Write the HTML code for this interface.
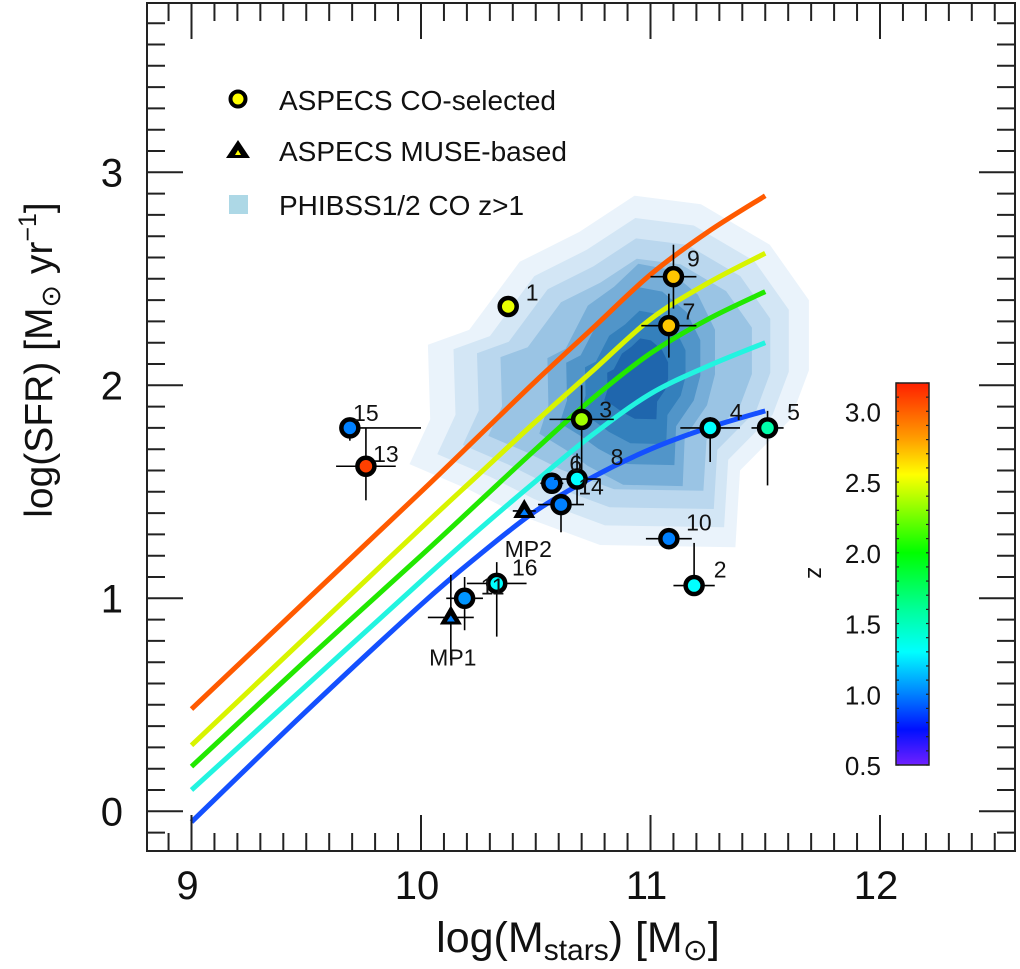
<!DOCTYPE html>
<html><head><meta charset="utf-8">
<style>
html,body{margin:0;padding:0;background:#fff;}
svg text{font-family:"Liberation Sans",Arial,sans-serif;fill:#111;}
</style></head>
<body>
<svg id="chart" width="1020" height="964" viewBox="0 0 1020 964" xmlns="http://www.w3.org/2000/svg">
<defs>
<linearGradient id="cbgrad" x1="0" y1="1" x2="0" y2="0">
<stop offset="0" stop-color="#7020ff"/>
<stop offset="0.093" stop-color="#0010ff"/>
<stop offset="0.185" stop-color="#0080ff"/>
<stop offset="0.296" stop-color="#00ffff"/>
<stop offset="0.407" stop-color="#00ff9a"/>
<stop offset="0.556" stop-color="#00ff00"/>
<stop offset="0.76" stop-color="#ffff00"/>
<stop offset="0.852" stop-color="#ffa000"/>
<stop offset="1" stop-color="#ff2000"/>
</linearGradient>
<clipPath id="plotclip"><rect x="147" y="3" width="868" height="848"/></clipPath>
</defs>
<g id="contours" clip-path="url(#plotclip)"></g>
<g id="curves" clip-path="url(#plotclip)"></g>
<g id="points"></g>
<g id="axes"></g>
<g id="legend">
  <circle cx="238" cy="99" r="7.5" fill="#ffff00" stroke="#000" stroke-width="4"/>
  <text x="279" y="110" font-size="28">ASPECS CO-selected</text>
  <polygon points="238,140 250,158 226,158" fill="#000"/>
  <polygon points="238,150 241,155 235,155" fill="#ffff00"/>
  <text x="279" y="161" font-size="28">ASPECS MUSE-based</text>
  <rect x="229" y="195" width="19" height="19" fill="#add8e6"/>
  <text x="279" y="215" font-size="28">PHIBSS1/2 CO z&gt;1</text>
</g>
<g id="colorbar">
  <rect x="896" y="383" width="33" height="382" fill="url(#cbgrad)" stroke="#222" stroke-width="1.5"/>
  <text x="0" y="0" font-size="24" text-anchor="middle" transform="translate(808,573) rotate(90)">z</text>
</g>
<text x="578" y="952" font-size="43" text-anchor="middle">log(M<tspan font-size="30" dy="8">stars</tspan><tspan dy="-8">) [M</tspan><tspan font-size="30" dy="8">⊙</tspan><tspan dy="-8">]</tspan></text>
<text font-size="39" text-anchor="middle" transform="translate(52,360) rotate(-90)">log(SFR) [M<tspan font-size="27" dy="8">⊙</tspan><tspan dy="-8"> yr</tspan><tspan font-size="25" dy="-16">−1</tspan><tspan dy="16">]</tspan></text>
</svg>
<script>
// ---------- data ----------
const curveMass = [9.0, 9.5, 10.0, 10.25, 10.5, 10.75, 11.0, 11.25, 11.5];
const curveRed    = [0.48, 0.99, 1.50, 1.76, 2.02, 2.27, 2.52, 2.72, 2.89];
const curveYellow = [0.31, 0.82, 1.33, 1.58, 1.83, 2.07, 2.31, 2.48, 2.62];
const curveGreen  = [0.21, 0.71, 1.20, 1.45, 1.70, 1.94, 2.15, 2.31, 2.44];
const curveCyan   = [0.10, 0.59, 1.08, 1.32, 1.55, 1.77, 1.96, 2.09, 2.20];
const curveBlue   = [-0.05, 0.47, 0.97, 1.20, 1.41, 1.57, 1.70, 1.80, 1.88];

const ptLabel = ["1","9","7","3","15","13","6","8","14","MP2","10","2","4","5","16","12","MP1"];
const ptMass  = [10.38, 11.10, 11.08, 10.70, 9.69, 9.76, 10.57, 10.68, 10.61, 10.45, 11.08, 11.19, 11.26, 11.51, 10.33, 10.19, 10.13];
const ptSFR   = [2.37, 2.51, 2.28, 1.84, 1.80, 1.62, 1.54, 1.56, 1.44, 1.41, 1.28, 1.06, 1.80, 1.80, 1.07, 1.00, 0.91];
const ptZ     = [2.5, 2.7, 2.7, 2.35, 1.0, 3.1, 1.0, 1.3, 1.0, 1.0, 1.0, 1.3, 1.3, 1.55, 1.3, 1.05, 1.0];
const ptXerrLo = [0, 0.1, 0.12, 0.14, 0, 0.13, 0.05, 0.1, 0.1, 0.05, 0.1, 0.09, 0.13, 0.07, 0.13, 0.08, 0.1];
const ptXerrHi = [0, 0.1, 0.12, 0.14, 0.31, 0.13, 0.05, 0.1, 0.1, 0.05, 0.1, 0.09, 0.13, 0.07, 0.13, 0.08, 0.1];
const ptYerrLo = [0, 0.15, 0.15, 0.28, 0.06, 0.16, 0.05, 0.12, 0.13, 0.03, 0.05, 0.02, 0.16, 0.27, 0.25, 0.15, 0.2];
const ptYerrHi = [0, 0.15, 0.15, 0.16, 0, 0.18, 0.05, 0.12, 0.03, 0.03, 0.05, 0.2, 0.05, 0.08, 0.1, 0.1, 0.2];
const ptIsTriangle = [0,0,0,0,0,0,0,0,0,1,0,0,0,0,0,0,1];

const contourMass = [10.03,10.21,10.43,10.69,10.93,11.22,11.52,11.69,11.69,11.61,11.39,11.37,10.78,10.43,10.21,9.95,10.04];
const contourSFR  = [2.19,2.26,2.58,2.72,2.89,2.85,2.66,2.40,2.07,1.84,1.60,1.24,1.25,1.39,1.51,1.63,1.84];
const contourLevels = [1, 0.88, 0.77, 0.66, 0.55, 0.44, 0.33, 0.2];
const contourCenter = [10.96, 2.02];

const xTicks = [9, 10, 11, 12];
const yTicks = [0, 1, 2, 3];
const cbTicks = ["0.5","1.0","1.5","2.0","2.5","3.0"];

// ---------- scales ----------
const X = v => 191.5 + (v - 9) * 229.5;
const Y = v => 811.3 - v * 213;
const CBY = z => 765 - (z - 0.5) / 2.7 * 382;
const NS = "http://www.w3.org/2000/svg";
function mk(tag, attrs, parent){const e=document.createElementNS(NS,tag);for(const k in attrs)e.setAttribute(k,attrs[k]);parent.appendChild(e);return e;}

const cmapZ = [0.5,0.75,1.0,1.3,1.6,2.0,2.55,2.8,3.2];
const cmapC = [[112,32,255],[0,16,255],[0,128,255],[0,255,255],[0,255,154],[0,255,0],[255,255,0],[255,160,0],[255,32,0]];
function cmap(z){
  if(z<=cmapZ[0])return 'rgb('+cmapC[0]+')';
  for(let i=0;i<cmapZ.length-1;i++){
    if(z<=cmapZ[i+1]){const t=(z-cmapZ[i])/(cmapZ[i+1]-cmapZ[i]);
      const c=cmapC[i].map((a,j)=>Math.round(a+(cmapC[i+1][j]-a)*t));return 'rgb('+c+')';}
  }
  return 'rgb('+cmapC[cmapC.length-1]+')';
}

// ---------- contours ----------
const contourColors = ['#eaf3fb','#d3e6f5','#bad7ee','#9ac4e4','#77aed8','#5195c9','#3480bc','#1f66ad','#0e529f'];
const cg = document.getElementById('contours');
contourLevels.forEach((s, li) => {
  const pts = contourMass.map((m,i)=>{
    const mx = contourCenter[0] + (m - contourCenter[0]) * s * (li>3?0.8:1);
    const my = contourCenter[1] + (contourSFR[i] - contourCenter[1]) * s * (li>3?1.15:1);
    return X(mx).toFixed(1)+','+Y(my).toFixed(1);
  }).join(' ');
  const p = mk('polygon',{points:pts, fill:contourColors[li]}, cg);
  
  
});

// ---------- curves ----------
const curveSets = [curveRed, curveYellow, curveGreen, curveCyan, curveBlue];
const curveNames = ['red','yellow','green','cyan','blue'];
const curveColors = ['#ff5a00','#d8f400','#22e800','#22f4e0','#1450ff'];
const cvg = document.getElementById('curves');
function smoothPath(xs, ys){
  const P = xs.map((x,i)=>[X(x),Y(ys[i])]);
  let d='M'+P[0][0]+','+P[0][1];
  for(let i=0;i<P.length-1;i++){
    const p0=P[i-1]||P[i], p1=P[i], p2=P[i+1], p3=P[i+2]||P[i+1];
    const c1=[p1[0]+(p2[0]-p0[0])/6, p1[1]+(p2[1]-p0[1])/6];
    const c2=[p2[0]-(p3[0]-p1[0])/6, p2[1]-(p3[1]-p1[1])/6];
    d+=' C'+c1.join(',')+' '+c2.join(',')+' '+p2.join(',');
  }
  return d;
}
curveSets.forEach((ys, ci) => {
  const p = mk('path',{d:smoothPath(curveMass, ys), fill:'none', stroke:curveColors[ci], 'stroke-width':5}, cvg);
  
  
});

// ---------- points ----------
const pg = document.getElementById('points');
ptMass.forEach((m, i) => {
  const g = mk('g',{}, pg);
  
  
  const cx=X(m), cy=Y(ptSFR[i]);
  if(ptXerrLo[i]||ptXerrHi[i]) mk('line',{x1:X(m-ptXerrLo[i]),x2:X(m+ptXerrHi[i]),y1:cy,y2:cy,stroke:'#000','stroke-width':1.6}, g);
  if(ptYerrLo[i]||ptYerrHi[i]) mk('line',{x1:cx,x2:cx,y1:Y(ptSFR[i]-ptYerrLo[i]),y2:Y(ptSFR[i]+ptYerrHi[i]),stroke:'#000','stroke-width':1.6}, g);
  if(ptIsTriangle[i]){
    mk('polygon',{points:(cx)+','+(cy-12)+' '+(cx+11)+','+(cy+7)+' '+(cx-11)+','+(cy+7),fill:'#000'}, g);
    mk('polygon',{points:(cx)+','+(cy-2)+' '+(cx+4)+','+(cy+4)+' '+(cx-4)+','+(cy+4),fill:cmap(ptZ[i])}, g);
  } else {
    mk('circle',{cx:cx,cy:cy,r:8.5,fill:cmap(ptZ[i]),stroke:'#000','stroke-width':4.5}, g);
  }
});
const labelPos = {"1":[24,-14],"9":[20,-18],"7":[20,-14],"3":[24,-10],"15":[16,-15],"13":[20,-12],"6":[24,-20],"8":[40,-22],"14":[30,-18],"MP2":[4,38],"10":[30,-16],"2":[26,-16],"4":[26,-16],"5":[26,-16],"16":[28,-16],"12":[28,-12],"MP1":[2,40]};
ptLabel.forEach((l,i)=>{
  const o = labelPos[l];
  const t = mk('text',{x:X(ptMass[i])+o[0], y:Y(ptSFR[i])+o[1]+8, 'font-size':23, 'text-anchor':'middle'}, pg);
  t.textContent = (l==="12"?"11":l);
  
  
});

// ---------- axes ----------
const ag = document.getElementById('axes');
const frame = mk('rect',{x:147,y:3,width:868,height:848,fill:'none',stroke:'#222','stroke-width':2}, ag);


for(let k=89;k<=125;k++){
  const v=k/10, x=X(v); if(x<148||x>1014)continue;
  const L = (k%10===0)?36:18;
  mk('line',{x1:x,x2:x,y1:851,y2:851-L,stroke:'#222','stroke-width':2}, ag);
  mk('line',{x1:x,x2:x,y1:3,y2:3+L,stroke:'#222','stroke-width':2}, ag);
}
for(let k=-2;k<=38;k++){
  const v=k/10, y=Y(v); if(y<4||y>850)continue;
  const L = (k%10===0)?36:18;
  mk('line',{x1:147,x2:147+L,y1:y,y2:y,stroke:'#222','stroke-width':2}, ag);
  mk('line',{x1:1015,x2:1015-L,y1:y,y2:y,stroke:'#222','stroke-width':2}, ag);
}
xTicks.forEach(v=>{
  const t=mk('text',{x:X(v)-4,y:899,'font-size':40,'text-anchor':'middle'}, ag);
  t.textContent=String(v);
  
  
});
yTicks.forEach(v=>{
  const t=mk('text',{x:123,y:Y(v)+14,'font-size':40,'text-anchor':'end'}, ag);
  t.textContent=String(v);
  
  
});
const cbg = document.getElementById('colorbar');
for(let k=5;k<=32;k++){
  const y=CBY(k/10);
  mk('line',{x1:896,x2:899,y1:y,y2:y,stroke:'#222','stroke-width':1.2}, cbg);
  mk('line',{x1:929,x2:926,y1:y,y2:y,stroke:'#222','stroke-width':1.2}, cbg);
}
cbTicks.forEach(s=>{
  const t=mk('text',{x:881,y:CBY(parseFloat(s))+10,'font-size':26,'text-anchor':'end'}, cbg);
  t.textContent=s;
  
  
});
</script>
</body></html>
